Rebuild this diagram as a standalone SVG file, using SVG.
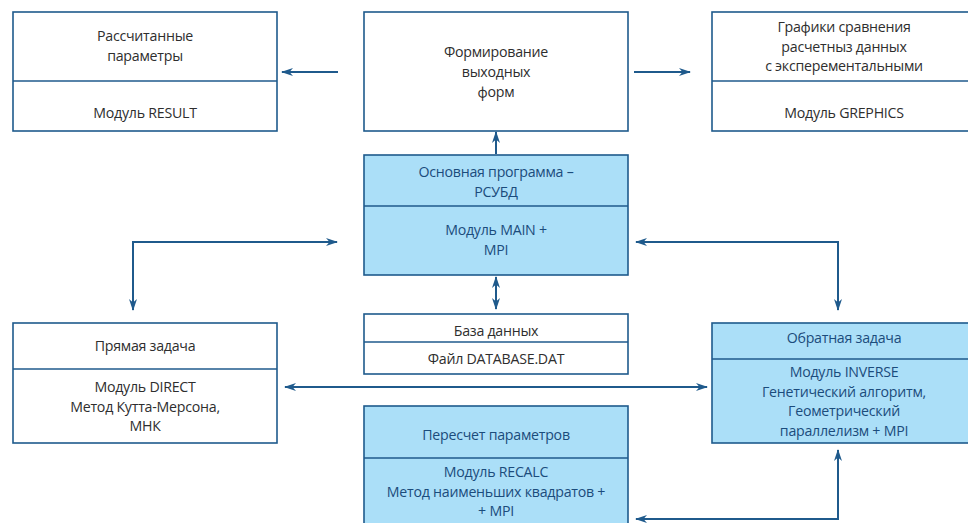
<svg xmlns="http://www.w3.org/2000/svg" width="968" height="523" viewBox="0 0 968 523">
<defs>
<style>
.box{fill:#ffffff;stroke:#1f5a8c;stroke-width:1.6}
.blue{fill:#abdff8;stroke:#1f5a8c;stroke-width:1.6}
.div{stroke:#1f5a8c;stroke-width:1.6}
text{font-family:"Open Sans","Noto Sans",sans-serif;font-size:14.2px;letter-spacing:-0.25px;text-anchor:middle}
.t{fill:#2e2e2e}
.tb{fill:#1b4c7c}
.c{fill:none;stroke:#1f5a8c;stroke-width:2}
</style>
<marker id="ah" viewBox="0 0 12 8" refX="11" refY="4" markerWidth="12" markerHeight="8" markerUnits="userSpaceOnUse" orient="auto-start-reverse">
<path d="M0,0 L12,4 L0,8 L3.5,4 Z" fill="#1f5a8c"/>
</marker>
</defs>
<rect width="968" height="523" fill="#ffffff"/>

<g id="node-result">
<rect class="box" x="13" y="12" width="264" height="119"/>
<line class="div" x1="13" y1="81" x2="277" y2="81"/>
<text class="t" x="145" y="41">Рассчитанные</text>
<text class="t" x="145" y="61">параметры</text>
<text class="t" x="145" y="118">Модуль RESULT</text>
</g>

<g id="node-forms">
<rect class="box" x="364" y="12" width="264" height="119"/>
<text class="t" x="496" y="57">Формирование</text>
<text class="t" x="496" y="77">выходных</text>
<text class="t" x="496" y="97">форм</text>
</g>

<g id="node-graphics">
<rect class="box" x="712" y="12" width="264" height="119"/>
<line class="div" x1="712" y1="81" x2="976" y2="81"/>
<text class="t" x="844" y="32">Графики сравнения</text>
<text class="t" x="844" y="51.5">расчетныз данных</text>
<text class="t" x="844" y="71">с эксперементальными</text>
<text class="t" x="844" y="118">Модуль GREPHICS</text>
</g>

<g id="node-main">
<rect class="blue" x="364" y="155" width="264" height="120"/>
<line class="div" x1="364" y1="206" x2="628" y2="206"/>
<text class="tb" x="496" y="177">Основная программа –</text>
<text class="tb" x="496" y="197">РСУБД</text>
<text class="tb" x="496" y="235">Модуль MAIN +</text>
<text class="tb" x="496" y="255">MPI</text>
</g>

<g id="node-direct">
<rect class="box" x="13" y="323" width="264" height="120"/>
<line class="div" x1="13" y1="369" x2="277" y2="369"/>
<text class="t" x="145" y="351">Прямая задача</text>
<text class="t" x="145" y="392">Модуль DIRECT</text>
<text class="t" x="145" y="411.5">Метод Кутта-Мерсона,</text>
<text class="t" x="145" y="431">МНК</text>
</g>

<g id="node-db">
<rect class="box" x="364" y="314" width="264" height="60"/>
<line class="div" x1="364" y1="342" x2="628" y2="342"/>
<text class="t" x="496" y="336">База данных</text>
<text class="t" x="496" y="364">Файл DATABASE.DAT</text>
</g>

<g id="node-inverse">
<rect class="blue" x="712" y="323" width="264" height="120"/>
<line class="div" x1="712" y1="359" x2="976" y2="359"/>
<text class="tb" x="844" y="343">Обратная задача</text>
<text class="tb" x="844" y="377">Модуль INVERSE</text>
<text class="tb" x="844" y="396.5">Генетический алгоритм,</text>
<text class="tb" x="844" y="416">Геометрический</text>
<text class="tb" x="844" y="435.5">параллелизм + MPI</text>
</g>

<g id="node-recalc">
<rect class="blue" x="364" y="406" width="264" height="130"/>
<line class="div" x1="364" y1="458" x2="628" y2="458"/>
<text class="tb" x="496" y="440">Пересчет параметров</text>
<text class="tb" x="496" y="477">Модуль RECALC</text>
<text class="tb" x="496" y="496.5">Метод наименьших квадратов +</text>
<text class="tb" x="496" y="516">+ MPI</text>
</g>

<g id="connectors">
<line class="c" x1="338" y1="72" x2="282" y2="72" marker-end="url(#ah)"/>
<line class="c" x1="634" y1="72" x2="690" y2="72" marker-end="url(#ah)"/>
<line class="c" x1="496" y1="154" x2="496" y2="132" marker-end="url(#ah)"/>
<line class="c" x1="496" y1="277" x2="496" y2="309" marker-start="url(#ah)" marker-end="url(#ah)"/>
<polyline class="c" points="337,242 133,242 133,310" marker-start="url(#ah)" marker-end="url(#ah)"/>
<polyline class="c" points="636,242 838,242 838,310" marker-start="url(#ah)" marker-end="url(#ah)"/>
<line class="c" x1="285" y1="387" x2="707" y2="387" marker-start="url(#ah)" marker-end="url(#ah)"/>
<polyline class="c" points="636,519 838,519 838,450" marker-start="url(#ah)" marker-end="url(#ah)"/>
</g>
</svg>
